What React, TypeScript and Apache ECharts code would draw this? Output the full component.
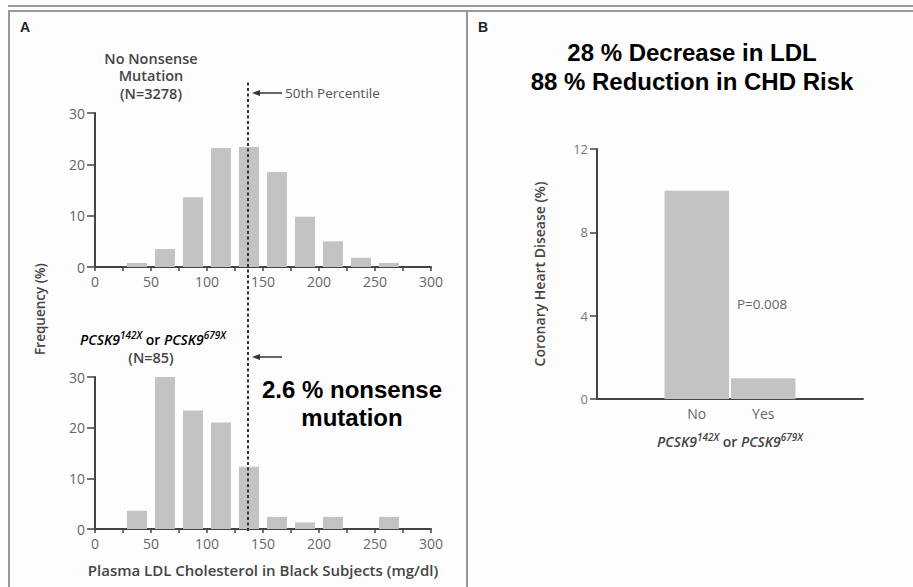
import React, { useEffect, useRef } from 'react';
import * as echarts from 'echarts';

// ---- Data ----
const binCenters = [37.5, 62.5, 87.5, 112.5, 137.5, 162.5, 187.5, 212.5, 237.5, 262.5];
const noMutationFreq = [0.8, 3.5, 13.6, 23.2, 23.4, 18.5, 9.8, 5.0, 1.8, 0.8];
const mutationFreq = [3.6, 30.8, 23.4, 21.0, 12.3, 2.4, 1.3, 2.4, 0, 2.4];
const percentile50 = 136;
const ldlMin = 0;
const ldlMax = 300;
const ldlInterval = 50;
const freqMax = 30;
const freqInterval = 10;
const chdCategories = ['', 'No', 'Yes', ''];
const chdValues: (number | null)[] = [null, 10.0, 1.0, null];
const chdMax = 12;
const chdInterval = 4;

const GILL = '"Open Sans", Lato, sans-serif';
const ARIAL = '"Liberation Sans", Arial, sans-serif';
const AXIS_COLOR = '#444';
const BAR_COLOR = '#c3c3c3';

const pcskRich = (size: number) => ({
  i: { fontStyle: 'italic', fontWeight: 600, fontSize: size, fontFamily: GILL, color: '#444', lineHeight: 16, verticalAlign: 'bottom' },
  r: { fontWeight: 600, fontSize: size, fontFamily: GILL, color: '#444', lineHeight: 16, verticalAlign: 'bottom' },
  s: { fontStyle: 'italic', fontWeight: 600, fontSize: 10, fontFamily: GILL, color: '#444', lineHeight: 10, verticalAlign: 'top' },
});
const pcskText = '{i|PCSK9}{s|142X}{r| or }{i|PCSK9}{s|679X}';

export default function App() {
  const ref = useRef<HTMLDivElement>(null);
  useEffect(() => {
    if (!ref.current) return;
    const chart = echarts.init(ref.current, undefined, { renderer: 'svg' });

    const histX = (gridIndex: number) => ({
      type: 'value',
      gridIndex,
      min: ldlMin,
      max: ldlMax,
      interval: ldlInterval,
      axisLine: { show: true, onZero: false, lineStyle: { color: AXIS_COLOR, width: 2 } },
      axisTick: { show: true, length: 4, lineStyle: { color: AXIS_COLOR, width: 1.5 } },
      minorTick: { show: true, splitNumber: 2, length: 4, lineStyle: { color: AXIS_COLOR, width: 1.5 } },
      splitLine: { show: false },
      axisLabel: { color: '#666', fontFamily: GILL, fontSize: 14, margin: 7 },
    });
    const histY = (gridIndex: number) => ({
      type: 'value',
      gridIndex,
      min: 0,
      max: freqMax,
      interval: freqInterval,
      axisLine: { show: true, lineStyle: { color: AXIS_COLOR, width: 2 } },
      axisTick: { show: true, length: 8, lineStyle: { color: AXIS_COLOR, width: 1.5 } },
      splitLine: { show: false },
      axisLabel: { color: '#666', fontFamily: GILL, fontSize: 14, margin: 10 },
    });

    const arrow = (y: number) => [
      { type: 'line', shape: { x1: 258, y1: y, x2: 282, y2: y }, style: { stroke: '#333', lineWidth: 1.5 } },
      { type: 'polygon', shape: { points: [[252, y], [260, y - 3], [260, y + 3]] }, style: { fill: '#333' } },
    ];

    const headLine = (text: string, y: number) => ({
      type: 'text', x: 151, y,
      style: { text, font: `600 14.5px ${GILL}`, lineHeight: 16, fill: '#444', align: 'center', verticalAlign: 'middle' },
    });

    chart.setOption({
      animation: false,
      backgroundColor: '#fdfdfd',
      grid: [
        { left: 95, top: 113, width: 336, height: 154 },
        { left: 95, top: 377, width: 336, height: 152 },
        { left: 95, top: 81, width: 336, height: 450 },
        { left: 597, top: 149, width: 266, height: 250 },
      ],
      xAxis: [
        histX(0),
        histX(1),
        { type: 'value', gridIndex: 2, min: ldlMin, max: ldlMax, show: false },
        {
          type: 'category',
          gridIndex: 3,
          data: chdCategories,
          axisLine: { lineStyle: { color: AXIS_COLOR, width: 2 } },
          axisTick: { show: false },
          axisLabel: { color: '#666', fontFamily: GILL, fontSize: 14, margin: 7 },
          name: pcskText,
          nameLocation: 'middle',
          nameGap: 33,
          nameTextStyle: { rich: pcskRich(14) },
        },
      ],
      yAxis: [
        histY(0),
        histY(1),
        { type: 'value', gridIndex: 2, min: 0, max: 1, show: false },
        {
          type: 'value',
          gridIndex: 3,
          min: 0,
          max: chdMax,
          interval: chdInterval,
          axisLine: { show: true, lineStyle: { color: AXIS_COLOR, width: 2 } },
          axisTick: { show: true, length: 7, lineStyle: { color: AXIS_COLOR, width: 1.5 } },
          splitLine: { show: false },
          axisLabel: { color: '#777', fontFamily: GILL, fontSize: 13, margin: 9 },
          name: 'Coronary Heart Disease (%)',
          nameLocation: 'middle',
          nameGap: 51,
          nameTextStyle: { color: '#444', fontFamily: GILL, fontWeight: 600, fontSize: 14 },
        },
      ],
      series: [
        {
          type: 'bar',
          xAxisIndex: 0,
          yAxisIndex: 0,
          barWidth: 20,
          itemStyle: { color: BAR_COLOR },
          data: binCenters.map((c, i) => [c, noMutationFreq[i]]),
        },
        {
          type: 'bar',
          xAxisIndex: 1,
          yAxisIndex: 1,
          barWidth: 20,
          itemStyle: { color: BAR_COLOR },
          data: binCenters.map((c, i) => [c, mutationFreq[i]]),
        },
        {
          type: 'line',
          xAxisIndex: 2,
          yAxisIndex: 2,
          data: [],
          markLine: {
            silent: true,
            symbol: 'none',
            label: { show: false },
            lineStyle: { color: '#333', width: 2, type: [3, 2.5] },
            data: [{ xAxis: percentile50 }],
          },
        },
        {
          type: 'bar',
          xAxisIndex: 3,
          yAxisIndex: 3,
          barCategoryGap: '3%',
          itemStyle: { color: BAR_COLOR },
          data: chdValues,
        },
      ],
      graphic: [
        // frame
        { type: 'rect', shape: { x: 8, y: 5, width: 905, height: 2 }, style: { fill: '#999' } },
        { type: 'rect', shape: { x: 8, y: 10, width: 905, height: 2 }, style: { fill: '#999' } },
        { type: 'rect', shape: { x: 8, y: 10, width: 2, height: 577 }, style: { fill: '#999' } },
        { type: 'rect', shape: { x: 466, y: 10, width: 2, height: 577 }, style: { fill: '#999' } },
        // panel letters
        { type: 'text', x: 20, y: 27, style: { text: 'A', font: `bold 14px ${ARIAL}`, fill: '#222', verticalAlign: 'middle' } },
        { type: 'text', x: 478, y: 27, style: { text: 'B', font: `bold 14px ${ARIAL}`, fill: '#222', verticalAlign: 'middle' } },
        // panel A annotations
        headLine('No Nonsense', 58),
        headLine('Mutation', 75.5),
        headLine('(N=3278)', 93),
        { type: 'text', x: 285, y: 93, style: { text: '50th Percentile', font: `13.5px ${GILL}`, fill: '#555', verticalAlign: 'middle' } },
        ...arrow(93),
        ...arrow(357),
        {
          type: 'text', x: 153, y: 338,
          style: { text: pcskText, rich: pcskRich(14), align: 'center', verticalAlign: 'middle' },
        },
        headLine('(N=85)', 357),
        {
          type: 'text', x: 352, y: 403,
          style: { text: '2.6 % nonsense\nmutation', font: `bold 24px ${ARIAL}`, lineHeight: 28, fill: '#000', align: 'center', verticalAlign: 'middle' },
        },
        {
          type: 'text', x: 40, y: 309, rotation: Math.PI / 2,
          style: { text: 'Frequency (%)', font: `600 13.5px ${GILL}`, fill: '#444', align: 'center', verticalAlign: 'middle' },
        },
        {
          type: 'text', x: 263, y: 570,
          style: { text: 'Plasma LDL Cholesterol in Black Subjects (mg/dl)', font: `600 15px ${GILL}`, fill: '#444', align: 'center', verticalAlign: 'middle' },
        },
        // panel B annotations
        {
          type: 'text', x: 692, y: 67,
          style: { text: '28 % Decrease in LDL\n88 % Reduction in CHD Risk', font: `bold 24px ${ARIAL}`, lineHeight: 29, fill: '#000', align: 'center', verticalAlign: 'middle' },
        },
        { type: 'text', x: 737, y: 304, style: { text: 'P=0.008', font: `13.5px ${GILL}`, fill: '#666', verticalAlign: 'middle' } },
      ],
    });
    return () => chart.dispose();
  }, []);
  return <div ref={ref} style={{ position: 'fixed', left: 0, top: 0, width: 913, height: 587 }} />;
}
